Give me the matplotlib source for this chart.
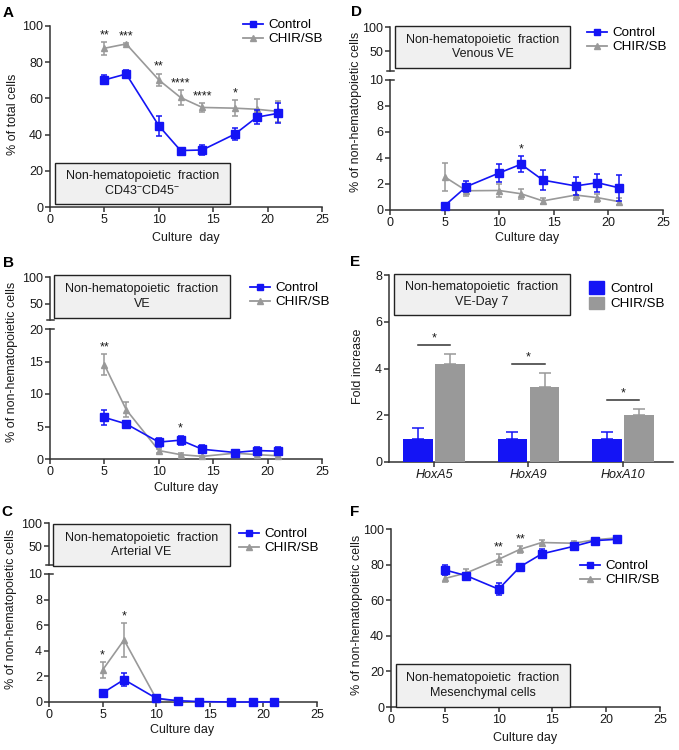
import numpy as np
import matplotlib
matplotlib.use("Agg")
import matplotlib.pyplot as plt
from matplotlib.lines import Line2D
from matplotlib.patches import Rectangle, Patch

plt.rcParams['font.family'] = ['Liberation Sans', 'DejaVu Sans']
plt.rcParams['mathtext.fontset'] = 'custom'
plt.rcParams['mathtext.rm'] = 'Liberation Sans'
plt.rcParams['mathtext.it'] = 'Liberation Sans:italic'

# ---------------- data ----------------
days = [5, 7, 10, 12, 14, 17, 19, 21]

# A: % of total cells
a_ctrl = [70.2, 73.5, 44.9, 31.2, 31.5, 40.3, 49.6, 51.8]
a_ctrl_err = [2.5, 2.0, 5.5, 1.2, 3.0, 3.5, 4.0, 5.5]
a_chir = [87.7, 90.1, 70.2, 60.5, 55.0, 54.6, 54.0, 52.8]
a_chir_err = [3.5, 0.6, 3.5, 4.0, 2.5, 4.5, 5.5, 6.0]
a_stars = ['**', '***', '**', '****', '****', '*', '', '']

# B: VE
b_ctrl = [6.4, 5.4, 2.6, 2.9, 1.5, 1.0, 1.3, 1.2]
b_ctrl_err = [1.1, 0.5, 0.7, 0.7, 0.6, 0.3, 0.6, 0.6]
b_chir = [14.5, 7.6, 1.3, 0.67, 0.4, 0.9, 0.67, 0.5]
b_chir_err = [1.6, 1.2, 0.3, 0.2, 0.1, 0.2, 0.2, 0.2]
b_stars = ['**', '', '', '*', '', '', '', '']

# C: Arterial VE
c_ctrl = [0.7, 1.75, 0.29, 0.1, 0.03, 0.0, 0.0, 0.0]
c_ctrl_err = [0.1, 0.5, 0.1, 0.05, 0.02, 0.0, 0.0, 0.0]
c_chir = [2.5, 4.85, 0.26, 0.08, 0.0, 0.0, 0.0, 0.0]
c_chir_err = [0.65, 1.3, 0.05, 0.03, 0.0, 0.0, 0.0, 0.0]
c_stars = ['*', '*', '', '', '', '', '', '']

# D: Venous VE
d_ctrl = [0.33, 1.8, 2.85, 3.52, 2.3, 1.85, 2.1, 1.7]
d_ctrl_err = [0.05, 0.4, 0.7, 0.6, 0.75, 0.7, 0.7, 1.0]
d_chir = [2.55, 1.48, 1.5, 1.25, 0.7, 1.15, 0.95, 0.64]
d_chir_err = [1.1, 0.4, 0.5, 0.4, 0.2, 0.4, 0.3, 0.25]
d_stars = ['', '', '', '*', '', '', '', '']

# E: Fold increase, VE-Day 7
genes = ['HoxA5', 'HoxA9', 'HoxA10']
e_ctrl = [1.0, 1.0, 1.0]
e_ctrl_err = [0.45, 0.3, 0.27]
e_chir = [4.2, 3.2, 2.02]
e_chir_err = [0.42, 0.62, 0.25]
e_stars = ['*', '*', '*']

# F: Mesenchymal cells
f_ctrl = [77.0, 73.8, 66.2, 78.8, 86.0, 90.3, 93.5, 94.2]
f_ctrl_err = [3.0, 1.5, 3.2, 1.5, 2.5, 1.5, 1.2, 1.0]
f_chir = [72.2, 75.3, 83.0, 88.6, 92.4, 92.0, 94.0, 95.0]
f_chir_err = [2.0, 2.5, 3.0, 2.0, 1.5, 1.5, 1.0, 0.6]
f_stars = ['', '', '**', '**', '', '', '', '']

BLUE = '#1414f5'
GREY = '#999999'
TXT = '#1a1a1a'
AX = '#333333'

W, H = 679, 750
fig = plt.figure(figsize=(W / 100, H / 100), dpi=100)

FS = 9.0
LFS = 9.6
BFS = 9.0


def add_ax(l, t, r, b):
    return fig.add_axes([l / W, 1 - b / H, (r - l) / W, (b - t) / H])


def style(ax, bottom=True):
    for s in ['top', 'right']:
        ax.spines[s].set_visible(False)
    ax.spines['left'].set_color(AX)
    ax.spines['bottom'].set_color(AX)
    ax.spines['left'].set_linewidth(1.1)
    ax.spines['bottom'].set_linewidth(1.1)
    if not bottom:
        ax.spines['bottom'].set_visible(False)
    ax.tick_params(direction='out', length=3.5, width=1.1, color=AX,
                   labelsize=FS, labelcolor=TXT, pad=1.5)
    ax.patch.set_alpha(0)


def fig_line(x0, y0, x1, y1):
    fig.add_artist(Line2D([x0 / W, x1 / W], [1 - y0 / H, 1 - y1 / H],
                          color=AX, lw=1.1, transform=fig.transFigure))


def box(l, t, r, b, lines):
    fig.add_artist(Rectangle((l / W, 1 - b / H), (r - l) / W, (b - t) / H,
                             transform=fig.transFigure, facecolor='#f0f0f0',
                             edgecolor='#222222', lw=1.0, zorder=5))
    fig.text((l + r) / 2 / W, 1 - (t + b) / 2 / H, '\n'.join(lines),
             ha='center', va='center', fontsize=BFS, color=TXT,
             linespacing=1.25, zorder=6)


def line_legend(x, y):
    h = [Line2D([], [], color=BLUE, marker='s', ms=5, lw=1.3),
         Line2D([], [], color=GREY, marker='^', ms=4.5, lw=1.3)]
    fig.legend(h, ['Control', 'CHIR/SB'], loc='upper left',
               bbox_to_anchor=(x / W, 1 - y / H), frameon=False,
               fontsize=LFS, handlelength=1.5, handletextpad=0.4,
               borderpad=0, borderaxespad=0, labelspacing=0.12)


def draw_lines(ax, ctrl, cerr, chir, herr, stars):
    ax.errorbar(days, chir, yerr=herr, color=GREY, marker='^', ms=4.8,
                lw=1.2, elinewidth=1.1, capsize=2.5, capthick=1.1,
                clip_on=False, zorder=3)
    ax.errorbar(days, ctrl, yerr=cerr, color=BLUE, marker='s', ms=5.2,
                lw=1.2, elinewidth=1.1, capsize=2.5, capthick=1.1,
                clip_on=False, zorder=4)
    for d, s, a, ae, b, be in zip(days, stars, ctrl, cerr, chir, herr):
        if s:
            top = max(a + ae, b + be)
            ax.annotate(s, xy=(d, top), xytext=(0, 0.5),
                        textcoords='offset points', ha='center',
                        va='bottom', fontsize=FS, color=TXT)


def xaxis_days(ax):
    ax.set_xlim(0, 25)
    ax.set_xticks([0, 5, 10, 15, 20, 25])


def broken_upper(l, t, r, b, lo):
    ax = add_ax(l, t, r, b)
    style(ax, bottom=False)
    ax.set_xlim(0, 25)
    ax.set_xticks([])
    ax.set_ylim(lo, 100)
    ax.set_yticks([50, 100])
    fig_line(l - 3.5, b, l + 3.5, b)
    return ax


# ---------------- Panel A ----------------
axA = add_ax(50, 26, 322, 207)
style(axA)
draw_lines(axA, a_ctrl, a_ctrl_err, a_chir, a_chir_err, a_stars)
xaxis_days(axA)
axA.set_ylim(0, 100)
axA.set_yticks([0, 20, 40, 60, 80, 100])
line_legend(243, 19)
box(55, 163, 230, 204, ['Non-hematopoietic  fraction', 'CD43$^{-}$CD45$^{-}$'])
fig.text(13 / W, 1 - 114 / H, '% of total cells', rotation=90, ha='center',
         va='center', fontsize=FS, color=TXT)
fig.text(186 / W, 1 - 238 / H, 'Culture  day', ha='center', va='center',
         fontsize=FS, color=TXT)

# ---------------- Panel D ----------------
broken_upper(390, 27, 663, 71, 10)
axD = add_ax(390, 80, 663, 210)
style(axD)
draw_lines(axD, d_ctrl, d_ctrl_err, d_chir, d_chir_err, d_stars)
xaxis_days(axD)
axD.set_ylim(0, 10)
axD.set_yticks([0, 2, 4, 6, 8, 10])
fig_line(390, 80, 393.5, 80)
line_legend(587, 27)
box(395, 26, 570, 68, ['Non-hematopoietic  fraction', 'Venous VE'])
fig.text(356 / W, 1 - 112 / H, '% of non-hematopoietic cells', rotation=90,
         ha='center', va='center', fontsize=FS, color=TXT)
fig.text(527 / W, 1 - 238 / H, 'Culture day', ha='center', va='center',
         fontsize=FS, color=TXT)

# ---------------- Panel B ----------------
broken_upper(50, 277, 322, 320, 20)
axB = add_ax(50, 329, 322, 459)
style(axB)
draw_lines(axB, b_ctrl, b_ctrl_err, b_chir, b_chir_err, b_stars)
xaxis_days(axB)
axB.set_ylim(0, 20)
axB.set_yticks([0, 5, 10, 15, 20])
fig_line(50, 329, 53.5, 329)
line_legend(250, 282)
box(54, 275, 230, 318, ['Non-hematopoietic  fraction', 'VE'])
fig.text(12 / W, 1 - 362 / H, '% of non-hematopoietic cells', rotation=90,
         ha='center', va='center', fontsize=FS, color=TXT)
fig.text(186 / W, 1 - 488 / H, 'Culture day', ha='center', va='center',
         fontsize=FS, color=TXT)

# ---------------- Panel E ----------------
axE = add_ax(389, 275, 673, 462)
style(axE)
xg = np.arange(len(genes))
bw = 0.31
off = 0.17
axE.bar(xg - off, e_ctrl, width=bw, color=BLUE, zorder=3)
axE.bar(xg + off, e_chir, width=bw, color=GREY, zorder=3)
axE.errorbar(xg - off, e_ctrl, yerr=[np.zeros(3), e_ctrl_err], fmt='none',
             ecolor=BLUE, elinewidth=1.1, capsize=4, capthick=1.1, zorder=2)
axE.errorbar(xg + off, e_chir, yerr=[np.zeros(3), e_chir_err], fmt='none',
             ecolor=GREY, elinewidth=1.1, capsize=4, capthick=1.1, zorder=2)
for i, s in enumerate(e_stars):
    ly = e_chir[i] + e_chir_err[i] + 0.38
    axE.plot([xg[i] - 0.17, xg[i] + 0.17], [ly, ly], color='#333333', lw=1.1)
    axE.annotate(s, xy=(xg[i], ly), xytext=(0, 0.5), textcoords='offset points',
                 ha='center', va='bottom', fontsize=FS, color=TXT)
axE.set_xlim(-0.476, 2.53)
axE.set_xticks(xg)
axE.set_xticklabels(genes, fontstyle='italic')
axE.set_ylim(0, 8)
axE.set_yticks([0, 2, 4, 6, 8])
fig.legend([Patch(color=BLUE), Patch(color=GREY)], ['Control', 'CHIR/SB'],
           loc='upper left', bbox_to_anchor=(589 / W, 1 - 281 / H),
           frameon=False, fontsize=LFS, handlelength=1.1, handleheight=1.1,
           handletextpad=0.5, borderpad=0, borderaxespad=0, labelspacing=0.12)
box(394, 274, 570, 315, ['Non-hematopoietic  fraction', 'VE-Day 7'])
fig.text(358 / W, 1 - 366 / H, 'Fold increase', rotation=90, ha='center',
         va='center', fontsize=FS, color=TXT)

# ---------------- Panel C ----------------
broken_upper(49, 523, 317, 565, 10)
axC = add_ax(49, 574, 317, 702)
style(axC)
draw_lines(axC, c_ctrl, c_ctrl_err, c_chir, c_chir_err, c_stars)
xaxis_days(axC)
axC.set_ylim(0, 10)
axC.set_yticks([0, 2, 4, 6, 8, 10])
fig_line(49, 574, 52.5, 574)
line_legend(239, 528)
box(53, 524, 230, 566, ['Non-hematopoietic  fraction', 'Arterial VE'])
fig.text(11 / W, 1 - 609 / H, '% of non-hematopoietic cells', rotation=90,
         ha='center', va='center', fontsize=FS, color=TXT)
fig.text(182 / W, 1 - 730 / H, 'Culture day', ha='center', va='center',
         fontsize=FS, color=TXT)

# ---------------- Panel F ----------------
axF = add_ax(391, 529, 660, 707)
style(axF)
draw_lines(axF, f_ctrl, f_ctrl_err, f_chir, f_chir_err, f_stars)
xaxis_days(axF)
axF.set_ylim(0, 100)
axF.set_yticks([0, 20, 40, 60, 80, 100])
line_legend(580, 560)
box(396, 664, 570, 707, ['Non-hematopoietic  fraction', 'Mesenchymal cells'])
fig.text(357 / W, 1 - 615 / H, '% of non-hematopoietic cells', rotation=90,
         ha='center', va='center', fontsize=FS, color=TXT)
fig.text(525 / W, 1 - 738 / H, 'Culture day', ha='center', va='center',
         fontsize=FS, color=TXT)

# panel letters
for letter, (x, y) in {'A': (8, 13), 'D': (356, 12), 'B': (8, 263),
                       'E': (355, 262), 'C': (7, 512), 'F': (355, 512)}.items():
    fig.text(x / W, 1 - y / H, letter, ha='center', va='center',
             fontsize=11, fontweight='bold', color='black')

fig.savefig('out.png', dpi=100)
